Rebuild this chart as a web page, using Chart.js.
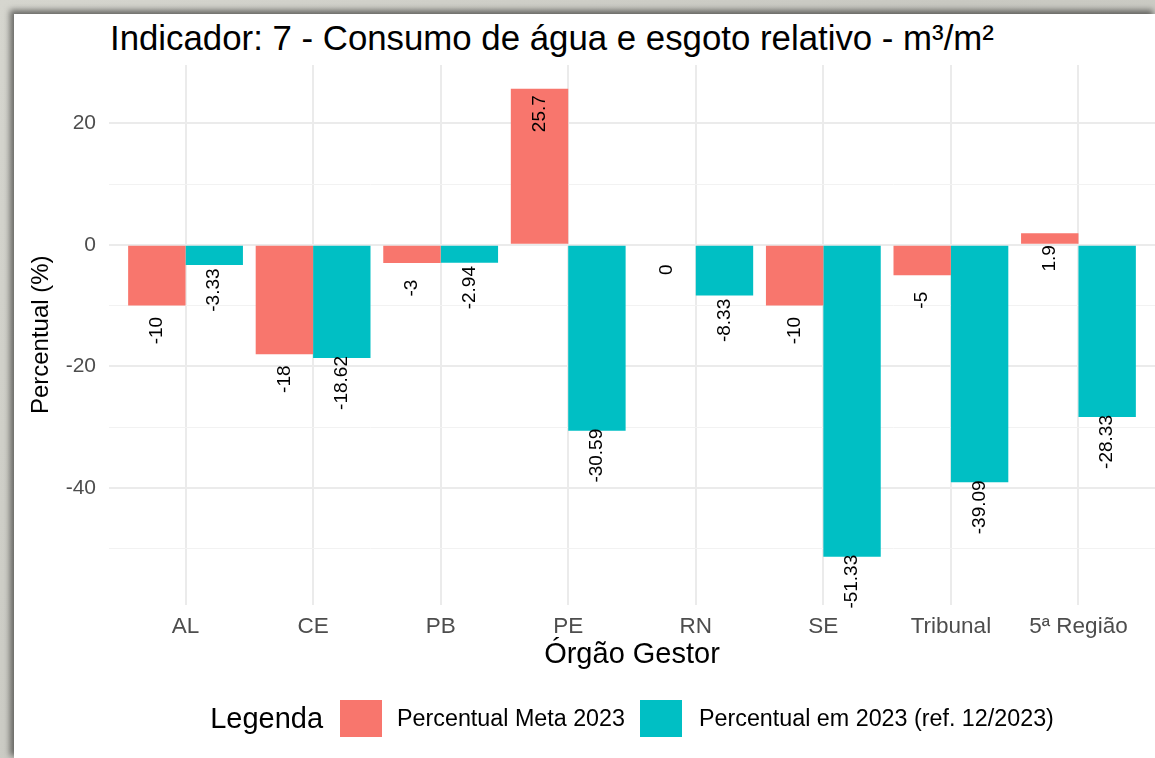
<!DOCTYPE html>
<html lang="pt-BR">
<head>
  <meta charset="UTF-8" />
  <title>Indicador 7 - Consumo de água e esgoto relativo</title>
  <script src="https://cdn.jsdelivr.net/npm/chart.js"></script>
  <style>
    html, body {
      margin: 0;
      padding: 0;
      width: 1155px;
      height: 758px;
      overflow: hidden;
      font-family: 'Liberation Sans', Arial, sans-serif;
      background: linear-gradient(135deg, #d6d6cf 0%, #c9c9c2 50%, #d2d2cb 100%);
    }
    .painel {
      position: absolute;
      left: 14px;
      top: 14px;
      width: 1141px;
      height: 744px;
      background: #fff;
      box-shadow: -3px -3px 6px 1px rgba(0, 0, 0, 0.5);
    }
    canvas {
      position: absolute;
      left: 0;
      top: 0;
    }
    h1 {
      position: absolute;
      left: 110px;
      top: 18px;
      margin: 0;
      font-size: 34.8px;
      font-weight: 400;
      color: #000;
      white-space: nowrap;
    }
    .legenda {
      position: absolute;
      left: 109px;
      width: 1046px;
      top: 700px;
      height: 37px;
      display: flex;
      justify-content: center;
      align-items: center;
      color: #000;
      white-space: nowrap;
    }
    .legenda .titulo { font-size: 29px; margin-right: 17px; }
    .legenda .chave { width: 42px; height: 37px; margin-right: 15px; }
    .legenda .rotulo { font-size: 23.3px; margin-right: 15px; }
    .legenda .rotulo:last-child { margin-right: 0; }
    .legenda .chave + .rotulo ~ .chave { margin-right: 17px; }
  </style>
</head>
<body>
  <div class="painel"></div>
  <h1>Indicador: 7 - Consumo de água e esgoto relativo - m³/m²</h1>
  <canvas id="grafico" width="1155" height="758"></canvas>
  <div class="legenda" id="legenda"></div>

  <script>
    // dados
    const orgaos = ["AL", "CE", "PB", "PE", "RN", "SE", "Tribunal", "5ª Região"];
    const metaPct = [-10, -18, -3, 25.7, 0, -10, -5, 1.9];
    const realPct = [-3.33, -18.62, -2.94, -30.59, -8.33, -51.33, -39.09, -28.33];
    const series = [
      { label: "Percentual Meta 2023", valores: metaPct, cor: "#F8766D" },
      { label: "Percentual em 2023 (ref. 12/2023)", valores: realPct, cor: "#00BFC4" }
    ];

    Chart.defaults.font.family = "'Liberation Sans', Arial, sans-serif";

    // rótulos verticais abaixo do valor de cada barra
    const rotulosBarras = {
      id: 'rotulosBarras',
      afterDatasetsDraw(chart) {
        const ctx = chart.ctx;
        const y = chart.scales.y;
        ctx.save();
        ctx.font = "19px 'Liberation Sans', Arial, sans-serif";
        ctx.fillStyle = "#000";
        ctx.textAlign = "center";
        ctx.textBaseline = "middle";
        chart.data.datasets.forEach((ds, i) => {
          chart.getDatasetMeta(i).data.forEach((bar, j) => {
            const v = ds.data[j].y;
            ctx.save();
            ctx.translate(bar.x, y.getPixelForValue(v) + 25);
            ctx.rotate(-Math.PI / 2);
            ctx.fillText(String(v), 0, 0);
            ctx.restore();
          });
        });
        ctx.restore();
      }
    };

    new Chart(document.getElementById("grafico"), {
      type: 'bar',
      data: {
        datasets: series.map(s => ({
          label: s.label,
          data: s.valores.map((v, i) => ({ x: i, y: v })),
          backgroundColor: s.cor,
          categoryPercentage: 0.9,
          barPercentage: 1.0
        }))
      },
      options: {
        responsive: false,
        animation: false,
        layout: { padding: { left: 27, top: 65, right: 0, bottom: 86 } },
        plugins: {
          legend: { display: false },
          title: { display: false },
          tooltip: { enabled: false }
        },
        scales: {
          x: {
            type: 'linear',
            min: -0.6,
            max: 7.6,
            offset: false,
            border: { display: false },
            grid: { color: "#ebebeb", lineWidth: 2, drawTicks: false, offset: false },
            ticks: {
              stepSize: 1,
              includeBounds: false,
              autoSkip: false,
              maxRotation: 0,
              padding: 9,
              color: "#4d4d4d",
              font: { size: 22.5 },
              callback: v => orgaos[v]
            },
            title: {
              display: true,
              text: "Órgão Gestor",
              color: "#000",
              font: { size: 29 },
              padding: 0
            },
            afterFit: s => { s.height = 67.5; }
          },
          y: {
            min: -59.2,
            max: 29.6,
            border: { display: false },
            grid: {
              drawTicks: false,
              color: c => c.tick.value % 20 === 0 ? "#ebebeb" : "#f2f2f2",
              lineWidth: c => c.tick.value % 20 === 0 ? 2 : 1
            },
            ticks: {
              stepSize: 10,
              includeBounds: false,
              padding: 13,
              color: "#4d4d4d",
              font: { size: 21 },
              callback: v => v % 20 === 0 ? v : ''
            },
            title: {
              display: true,
              text: "Percentual (%)",
              color: "#000",
              font: { size: 24 },
              padding: 0
            },
            afterFit: s => { s.width = 82; }
          }
        }
      },
      plugins: [rotulosBarras]
    });

    // legenda em HTML
    const leg = document.getElementById("legenda");
    leg.innerHTML = '<span class="titulo">Legenda</span>' + series.map(s =>
      `<span class="chave" style="background:${s.cor}"></span><span class="rotulo">${s.label}</span>`
    ).join('');
  </script>
</body>
</html>
